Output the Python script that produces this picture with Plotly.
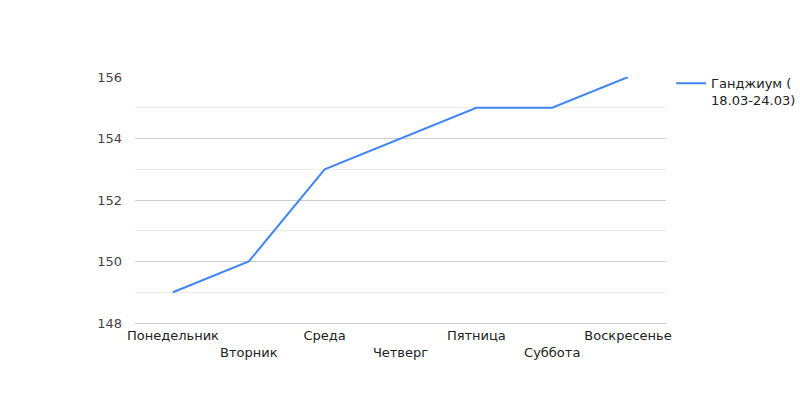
import plotly.graph_objects as go

days = ["Понедельник", "Вторник", "Среда", "Четверг", "Пятница", "Суббота", "Воскресенье"]
values = [149, 150, 153, 154, 155, 155, 156]
series_name = "Ганджиум (<br>18.03-24.03)"
y_ticks = [148, 150, 152, 154, 156]

tick_text = [d if i % 2 == 0 else "<br>" + d for i, d in enumerate(days)]

fig = go.Figure()
fig.add_trace(go.Scatter(
    x=list(range(len(days))), y=values, mode="lines", name=series_name,
    line=dict(color="#4285f4", width=2), showlegend=True,
))
fig.update_layout(
    width=800, height=400,
    margin=dict(l=135, r=134, t=77, b=77, autoexpand=False),
    plot_bgcolor="white", paper_bgcolor="white",
    font=dict(family="DejaVu Sans", size=13, color="#444"),
    showlegend=True,
    legend=dict(x=1.0096, y=1.035, xanchor="left", yanchor="top", valign="top",
                font=dict(size=13, color="#222"), bgcolor="rgba(0,0,0,0)"),
)
fig.update_xaxes(
    range=[-0.5, 6.5], tickmode="array", tickvals=list(range(len(days))),
    ticktext=tick_text, showgrid=False, zeroline=False,
    showline=True, linecolor="#cccccc", linewidth=1,
    ticks="", tickangle=0, tickfont=dict(size=13, color="#222"),
)
fig.update_yaxes(
    range=[148, 156], tickmode="array", tickvals=y_ticks,
    gridcolor="#cccccc", gridwidth=1, zeroline=False, showline=False,
    ticks="", ticklabelstandoff=12, tickfont=dict(size=13, color="#444"),
    minor=dict(dtick=1, showgrid=True, gridcolor="#ebebeb", gridwidth=1),
)
fig.write_html("out.html")
